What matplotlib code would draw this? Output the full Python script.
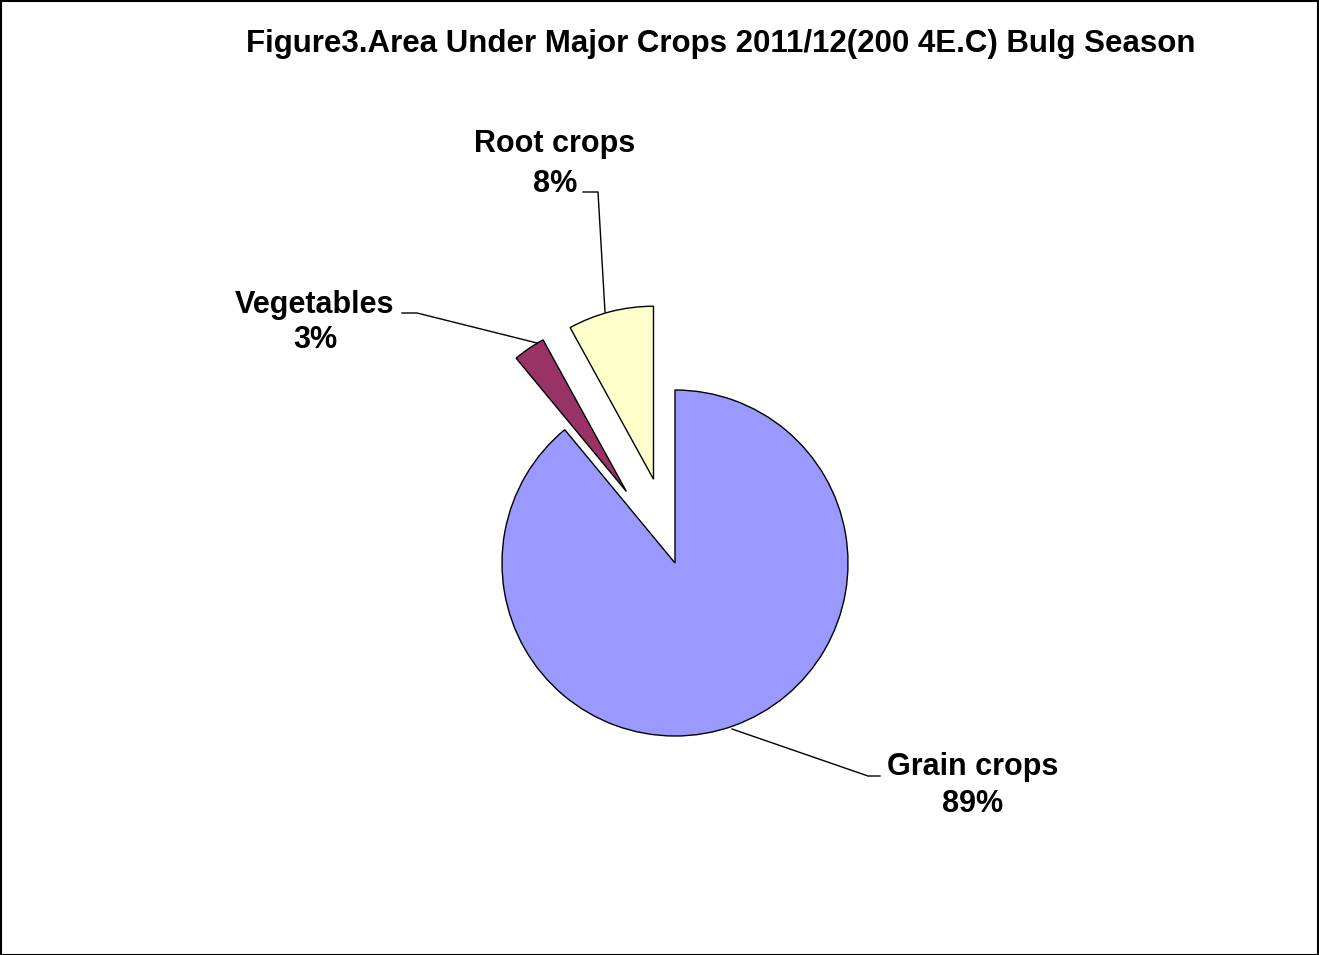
import matplotlib
matplotlib.use('Agg')  # Non-interactive backend
import matplotlib.pyplot as plt
from matplotlib.patches import Rectangle

# data
crops = ['Grain crops', 'Vegetables', 'Root crops']
shares = [89, 3, 8]
colors = ['#9999FF', '#993366', '#FFFFCC']

W, H = 1319, 955
R = 173  # pie radius in pixels

def py(y):
    # pixel row (from top) -> data y (from bottom)
    return H - y

fig = plt.figure(figsize=(W / 100, H / 100), dpi=100)
ax = fig.add_axes([0, 0, 1, 1])

# explode is in data units, so scale by radius
ax.pie(shares, colors=colors, explode=[0, 0.5 * R, 0.5 * R], startangle=90,
       counterclock=False, center=(675, py(563)), radius=R,
       wedgeprops=dict(edgecolor='black', linewidth=1.0))
ax.set_xlim(0, W)
ax.set_ylim(0, H)
ax.set_aspect('equal')
ax.axis('off')

font = ['Liberation Sans', 'DejaVu Sans']

ax.text(721, py(52), 'Figure3.Area Under Major Crops 2011/12(200 4E.C) Bulg Season',
        ha='center', va='baseline', fontsize=22.5, fontweight='bold', family=font)

# label baselines and leader lines (pixel coords)
labels = {
    'Root crops': dict(x=555, base=(152, 192), line=[(583, 192), (598, 192), (605, 312)]),
    'Vegetables': dict(x=315, base=(313, 348), line=[(402, 313), (417, 313), (537, 343)]),
    'Grain crops': dict(x=973, base=(775, 812), line=[(880, 776), (868, 776), (732, 729)]),
}
for name, share in zip(crops, shares):
    d = labels[name]
    b1, b2 = d['base']
    ax.text(d['x'], py(b1), name, ha='center', va='baseline', fontsize=22,
            fontweight='bold', family=font)
    ax.text(d['x'], py(b2), f'{share}%', ha='center', va='baseline', fontsize=22,
            fontweight='bold', family=font)
    lx = [p[0] for p in d['line']]
    ly = [py(p[1]) for p in d['line']]
    ax.plot(lx, ly, color='black', linewidth=1.0)

# chart border
fig.patches.append(Rectangle((0.5 / W, 0.5 / H), 1 - 2 / W, 1 - 2 / H,
                             transform=fig.transFigure, fill=False,
                             edgecolor='black', linewidth=1.5))

fig.savefig('out.png', dpi=100)
plt.close(fig)
